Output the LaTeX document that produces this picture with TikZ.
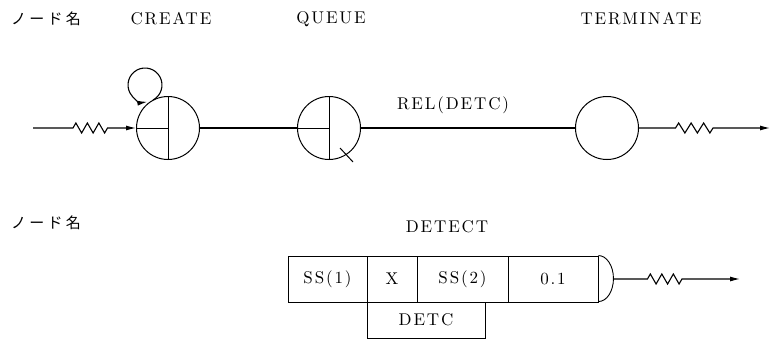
\documentclass[tikz,border=0pt]{standalone}
\usepackage{fontspec}
\newfontfamily\jpfont[LetterSpace=22]{Noto Sans CJK JP}
\newfontfamily\latfont[Extension=.otf, LetterSpace=11]{lmroman10-regular}
\usetikzlibrary{arrows.meta,decorations.pathmorphing,calc}
\begin{document}
\begin{tikzpicture}[x=1pt,y=1pt,
  lbl/.style={font=\latfont\fontsize{17}{20}\selectfont, inner sep=0},
  jlbl/.style={font=\jpfont\fontsize{15}{18}\selectfont, inner sep=0},
  nodecirc/.style={circle, draw, line width=1pt, minimum size=63pt, inner sep=0},
  cell/.style={draw, line width=0.9pt, inner sep=0, minimum height=46pt,
    font=\latfont\fontsize{17}{20}\selectfont},
  wire/.style={line width=1.1pt},
  tip/.style={-{Latex[length=10pt,width=5pt]}},
  zz/.style n args={3}{decorate, decoration={zigzag, amplitude=5pt,
    segment length=#1, pre length=#2, post length=#3}}]
\useasboundingbox (0,0) rectangle (775,341);

% column headings
\node[jlbl] (hdr1) at (46,322) {ノード名};
\node[lbl] (hcreate) at (171,322) {CREATE};
\node[lbl] (hqueue) at (331,322) {QUEUE};
\node[lbl] (hterm) at (641,322) {TERMINATE};

% network nodes
\node[nodecirc] (create) at (168,213) {};
\node[nodecirc] (queue) at (329,213) {};
\node[nodecirc] (term) at (607,213) {};

% CREATE symbol partitions
\draw[line width=1pt] (create.north) -- (create.south);
\draw[line width=1pt] (create.west) -- (create.center);
% QUEUE symbol partitions and tick
\draw[line width=1pt] (queue.north) -- (queue.south);
\draw[line width=1pt] (queue.west) -- (queue.center);
\draw[line width=1pt] ($(queue.center)+(11,-20)$) -- ($(queue.center)+(24,-34)$);

% self loop on CREATE
\coordinate (loopc) at (145,256);
\draw[wire, tip] ($(loopc)+(-62:17)$) arc[start angle=-62, end angle=278, radius=17pt];

% incoming activity
\coordinate (src) at (33,213);
\draw[wire, tip, zz={11.5pt}{40pt}{28.5pt}] (src) -- (create.west);

% activities between nodes
\draw[wire] (create) -- (queue);
\draw[wire] (queue) -- node[lbl, pos=0.43, yshift=23pt] {REL(DETC)} (term);

% outgoing activity from TERMINATE
\coordinate (sink) at (770,213);
\draw[wire, tip, zz={12.5pt}{36.5pt}{57pt}] (term.east) -- (sink);

% DETECT node
\node[jlbl] (hdr2) at (46,118) {ノード名};
\node[lbl] (hdetect) at (447,114) {DETECT};
\node[cell, minimum width=79pt] (ss1) at (327.5,62) {SS(1)};
\node[cell, minimum width=50pt] (xx) at (392,62) {X};
\node[cell, minimum width=91pt] (ss2) at (462.5,62) {SS(2)};
\node[cell, minimum width=90pt] (prob) at (553,62) {0.1};
\node[cell, minimum width=118pt, minimum height=36pt] (detc) at (426,21) {DETC};
\draw[line width=0.9pt] (prob.north east) arc[start angle=90, end angle=-90, x radius=15pt, y radius=23pt];
\coordinate (gate) at ($(prob.east)+(15,0)$);
\coordinate (dsink) at (740,62);
\draw[wire, tip, zz={11.5pt}{34pt}{58pt}] (gate) -- (dsink);
\end{tikzpicture}
\end{document}
